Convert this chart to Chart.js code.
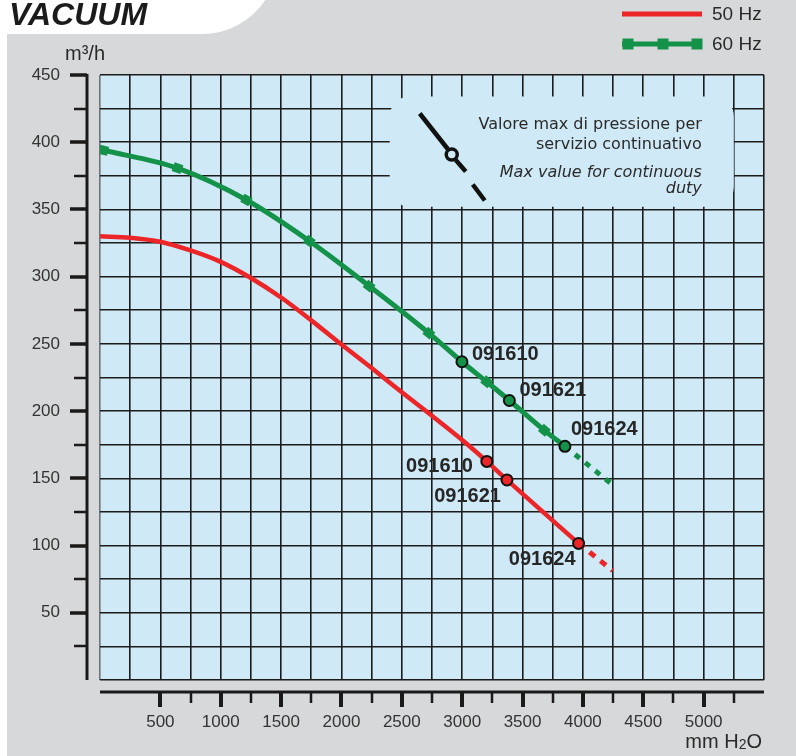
<!DOCTYPE html>
<html>
<head>
<meta charset="utf-8">
<style>
  html, body { margin: 0; padding: 0; background: #ffffff; }
  #wrap { position: relative; width: 796px; height: 756px; }
  canvas { display: block; }
</style>
<script src="https://cdn.jsdelivr.net/npm/chart.js@4.4.1/dist/chart.umd.min.js"></script>
</head>
<body>
<div id="wrap"><canvas id="chart" width="796" height="756"></canvas></div>
<script>
// Vacuum curves: pressure (mm H2O) against flow (m3/h)
const pressure50 = [0, 250, 500, 750, 1000, 1250, 1500, 1750, 2000, 2250, 2500, 2750, 3000, 3204, 3371, 3964];
const flow50     = [330, 329, 326, 319.5, 311, 299, 284.5, 267.5, 249.5, 232, 214, 196.5, 178.5, 162.6, 148.8, 101.6];

const pressure60 = [30, 642, 1213, 1734, 2229, 2724, 2998, 3203, 3391, 3681, 3851];
const flow60     = [394, 380.7, 357, 326.5, 293, 258, 236.7, 221.8, 207.9, 185.7, 173.8];

// Models and their maximum continuous-duty points
const models   = ['091610', '091621', '091624'];
const duty50P  = [3204, 3371, 3964];
const duty50Q  = [162.6, 148.8, 101.6];
const duty60P  = [2998, 3391, 3851];
const duty60Q  = [236.7, 207.9, 173.8];

// Curve beyond the continuous-duty limit
const over50P = [3964, 4246];
const over50Q = [101.6, 81.4];
const over60P = [3851, 4268];
const over60Q = [173.8, 143.6];

// Axis ranges and tick steps
const xMax = 5500, xStep = 250, xLabelStep = 500;
const yMax = 450,  yStep = 25,  yLabelStep = 50;

const seriesNames = ['50 Hz', '60 Hz'];

const RED = '#ec2528';
const GREEN = '#14924a';
const INK = '#2a2a2a';
const PANEL = '#d7d8da';
const PLOT = '#cfeaf6';
const SANS = "'Liberation Sans', Arial, Helvetica, sans-serif";

const pts = (xs, ys) => xs.map((x, i) => ({ x: x, y: ys[i] }));

// label placement next to each duty point: dx, dy, alignment
const tagPlace60 = [[10, -7, 'left'], [10, -10, 'left'], [6, -17, 'left']];
const tagPlace50 = [[-14, 5, 'right'], [-6, 17, 'right'], [-3, 16, 'right']];

// Square markers on the 60 Hz curve follow the direction of the line
function tilt(ctx) {
  const chart = ctx.chart;
  const i = ctx.dataIndex;
  const sx = chart.scales.x, sy = chart.scales.y;
  if (!sx || !sy) return 0;
  const a = Math.max(0, i - 1), b = Math.min(pressure60.length - 1, i + 1);
  const dx = sx.getPixelForValue(pressure60[b]) - sx.getPixelForValue(pressure60[a]);
  const dy = sy.getPixelForValue(flow60[b]) - sy.getPixelForValue(flow60[a]);
  return Math.atan2(dy, dx) * 180 / Math.PI;
}

const sheet = {
  id: 'sheet',
  beforeDraw(chart) {
    const c = chart.ctx;
    const W = chart.width, H = chart.height;
    const a = chart.chartArea;
    c.save();
    c.fillStyle = '#ffffff';
    c.fillRect(0, 0, W, H);
    // grey panel with the white title tab cut out of its top-left corner
    c.fillStyle = PANEL;
    c.beginPath();
    c.moveTo(7, H);
    c.lineTo(7, 34);
    c.lineTo(202, 34);
    c.arc(202, -42, 76, Math.PI / 2, Math.asin(42 / 76), true);
    c.lineTo(W, 0);
    c.lineTo(W, H);
    c.closePath();
    c.fill();
    // plot background
    c.fillStyle = PLOT;
    c.fillRect(a.left, a.top, a.right - a.left, a.bottom - a.top);

    // title
    c.fillStyle = '#1b1b1b';
    c.font = "italic bold 32px " + SANS;
    c.textAlign = 'left';
    c.textBaseline = 'alphabetic';
    c.fillText('VACUUM', 9, 25);

    // legend
    const lx0 = 622, lx1 = 702;
    c.lineCap = 'butt';
    c.strokeStyle = RED;
    c.lineWidth = 5;
    c.beginPath(); c.moveTo(lx0, 14); c.lineTo(lx1, 14); c.stroke();
    c.strokeStyle = GREEN;
    c.beginPath(); c.moveTo(lx0, 44); c.lineTo(lx1, 44); c.stroke();
    c.fillStyle = GREEN;
    [lx0 + 6, (lx0 + lx1) / 2 + 1, lx1 - 5].forEach(x => c.fillRect(x - 5.5, 44 - 5.5, 11, 11));
    c.fillStyle = INK;
    c.font = "19px " + SANS;
    c.textBaseline = 'middle';
    c.fillText(seriesNames[0], 712, 15);
    c.fillText(seriesNames[1], 712, 45);

    // axis titles
    c.font = "20px " + SANS;
    c.fillText('m³/h', 65, 54);
    c.textAlign = 'left';
    c.textBaseline = 'alphabetic';
    const base = 748;
    const p1 = 'mm H', p3 = 'O';
    c.font = "20px " + SANS;
    const w1 = c.measureText(p1).width, w3 = c.measureText(p3).width;
    c.font = "14px " + SANS;
    const w2 = c.measureText('2').width;
    let x = 762 - (w1 + w2 + w3);
    c.font = "20px " + SANS;
    c.fillText(p1, x, base);
    x += w1;
    c.font = "14px " + SANS;
    c.fillText('2', x, base + 1);
    x += w2;
    c.font = "20px " + SANS;
    c.fillText(p3, x, base);
    c.restore();
  },
  beforeDatasetsDraw(chart) {
    // note box about the continuous-duty marker
    const c = chart.ctx;
    const sx = chart.scales.x, sy = chart.scales.y;
    const bx = sx.getPixelForValue(2400), bx2 = sx.getPixelForValue(5250);
    const by = sy.getPixelForValue(434), by2 = sy.getPixelForValue(352);
    c.save();
    c.fillStyle = PLOT;
    c.beginPath();
    c.roundRect(bx, by, bx2 - bx, by2 - by, 20);
    c.fill();

    c.strokeStyle = '#111';
    c.lineCap = 'butt';
    c.lineWidth = 4.5;
    const cx = bx + 62, cy = by + 58;
    c.beginPath();
    c.moveTo(bx + 30, by + 17); c.lineTo(cx - 4, cy - 5.5);
    c.moveTo(cx + 4, cy + 5.5); c.lineTo(bx + 76, by + 75);
    c.moveTo(bx + 83, by + 88); c.lineTo(bx + 95, by + 104);
    c.stroke();
    c.lineWidth = 3.5;
    c.fillStyle = PLOT;
    c.beginPath(); c.arc(cx, cy, 5.5, 0, Math.PI * 2); c.fill(); c.stroke();

    c.fillStyle = INK;
    c.textAlign = 'right';
    c.textBaseline = 'alphabetic';
    const tx = bx2 - 32;
    c.font = "16px 'DejaVu Sans', sans-serif";
    c.fillText('Valore max di pressione per', tx, by + 32);
    c.fillText('servizio continuativo', tx, by + 52);
    c.font = "oblique 16px 'DejaVu Sans', sans-serif";
    c.fillText('Max value for continuous', tx, by + 80);
    c.fillText('duty', tx, by + 96);
    c.restore();
  },
  afterDatasetsDraw(chart) {
    const c = chart.ctx;
    c.save();
    c.fillStyle = '#262626';
    c.font = "bold 20px " + SANS;
    c.textBaseline = 'middle';
    chart.data.datasets.forEach((ds, di) => {
      if (!ds.tags) return;
      const meta = chart.getDatasetMeta(di);
      meta.data.forEach((el, i) => {
        const p = ds.tagPlace[i];
        c.textAlign = p[2];
        c.fillText(ds.tags[i], el.x + p[0], el.y + p[1]);
      });
    });
    c.restore();
  },
  afterDraw(chart) {
    // detached axis lines with their tick marks
    const c = chart.ctx;
    const sx = chart.scales.x, sy = chart.scales.y;
    const a = chart.chartArea;
    c.save();
    c.strokeStyle = '#1a1a1a';
    c.lineCap = 'butt';
    const ax = a.left - 13;
    c.lineWidth = 3;
    c.beginPath(); c.moveTo(ax, sy.getPixelForValue(yMax) - 1); c.lineTo(ax, sy.getPixelForValue(0)); c.stroke();
    for (let v = yStep; v <= yMax; v += yStep) {
      const y = Math.round(sy.getPixelForValue(v));
      const major = v % yLabelStep === 0;
      c.lineWidth = major ? 3.5 : 2.5;
      c.beginPath();
      c.moveTo(major ? ax - 17 : ax - 13, y);
      c.lineTo(ax, y);
      c.stroke();
    }
    const ay = a.bottom + 12;
    c.lineWidth = 3;
    c.beginPath(); c.moveTo(sx.getPixelForValue(0), ay); c.lineTo(sx.getPixelForValue(xMax), ay); c.stroke();
    for (let v = 2 * xStep; v < xMax; v += xStep) {
      const x = Math.round(sx.getPixelForValue(v));
      const major = v % xLabelStep === 0;
      c.lineWidth = major ? 4 : 2.5;
      c.beginPath();
      c.moveTo(x, ay);
      c.lineTo(x, major ? ay + 15 : ay + 11);
      c.stroke();
    }
    c.restore();
  }
};

const chart = new Chart(document.getElementById('chart'), {
  type: 'line',
  data: {
    datasets: [
      {
        label: '60 Hz duty',
        data: pts(duty60P, duty60Q),
        tags: models, tagPlace: tagPlace60,
        showLine: false,
        pointRadius: 5.5, pointBorderWidth: 2,
        pointBackgroundColor: GREEN, pointBorderColor: '#111',
        order: 0
      },
      {
        label: '50 Hz duty',
        data: pts(duty50P, duty50Q),
        tags: models, tagPlace: tagPlace50,
        showLine: false,
        pointRadius: 5.5, pointBorderWidth: 2,
        pointBackgroundColor: RED, pointBorderColor: '#111',
        order: 0
      },
      {
        label: seriesNames[1],
        data: pts(pressure60, flow60),
        borderColor: GREEN, borderWidth: 5,
        cubicInterpolationMode: 'monotone',
        pointStyle: 'rect',
        pointRadius: ctx => duty60P.includes(pressure60[ctx.dataIndex]) ? 0 : 6.5,
        pointRotation: tilt,
        pointBackgroundColor: GREEN, pointBorderWidth: 0,
        order: 1
      },
      {
        label: seriesNames[0],
        data: pts(pressure50, flow50),
        borderColor: RED, borderWidth: 4.5,
        cubicInterpolationMode: 'monotone',
        pointRadius: 0,
        order: 2
      },
      {
        label: '60 Hz overload',
        data: pts(over60P, over60Q),
        borderColor: GREEN, borderWidth: 5, borderDash: [6, 7],
        pointRadius: 0,
        order: 3
      },
      {
        label: '50 Hz overload',
        data: pts(over50P, over50Q),
        borderColor: RED, borderWidth: 5, borderDash: [7, 7],
        pointRadius: 0,
        order: 3
      }
    ]
  },
  options: {
    responsive: false,
    animation: false,
    events: [],
    layout: { padding: { top: 75, right: 31, left: 0, bottom: 0 } },
    plugins: { legend: { display: false }, tooltip: { enabled: false }, title: { display: false } },
    scales: {
      x: {
        type: 'linear', position: 'bottom', min: 0, max: xMax,
        afterFit: s => { s.height = 76; },
        border: { display: false },
        grid: {
          drawTicks: false,
          lineWidth: 1.6,
          color: ctx => (ctx.tick && ctx.tick.value === 0) ? '#6f7478' : '#1c1c1c'
        },
        ticks: {
          stepSize: xStep, maxTicksLimit: 100, autoSkip: false, maxRotation: 0,
          padding: 32, color: '#333',
          font: { family: SANS, size: 17 },
          callback: v => (v % xLabelStep === 0 && v > 0 && v < xMax) ? String(v) : ''
        }
      },
      y: {
        type: 'linear', position: 'left', min: 0, max: yMax,
        afterFit: s => { s.width = 100; },
        border: { display: false },
        grid: { drawTicks: false, lineWidth: 1.6, color: '#1c1c1c' },
        ticks: {
          stepSize: yStep, maxTicksLimit: 100, autoSkip: false,
          padding: 40, color: '#333',
          font: { family: SANS, size: 17 },
          callback: v => (v % yLabelStep === 0 && v > 0) ? String(v) : ''
        }
      }
    }
  },
  plugins: [sheet]
});
</script>
</body>
</html>
